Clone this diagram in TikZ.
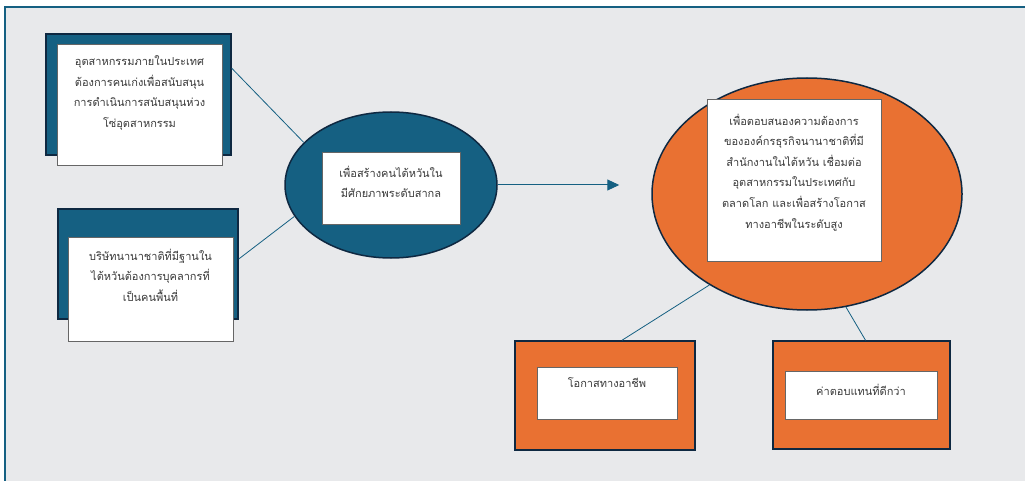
\documentclass[tikz,border=0pt]{standalone}
\usepackage{fontspec}
\newfontfamily\thaifont[Script=Thai]{Loma}
\usetikzlibrary{arrows.meta,shapes.geometric}

\definecolor{bggray}{HTML}{E8E9EB}
\definecolor{tblue}{HTML}{156082}
\definecolor{dblue}{HTML}{0E2841}
\definecolor{torange}{HTML}{E97132}
\definecolor{txtgray}{HTML}{3A3A3A}

\tikzset{
  backbox/.style={draw=dblue, line width=1.5pt, inner sep=0pt},
  whitebox/.style={draw=gray!80!black, fill=white, line width=0.8pt, inner sep=0pt},
  oval/.style={ellipse, draw=dblue, line width=1.5pt, inner sep=0pt},
  thaitext/.style={anchor=north, inner sep=0pt, align=center, text=txtgray,
    font=\thaifont\fontsize{11}{20.6}\selectfont},
  link/.style={draw=tblue, line width=0.8pt}
}

\begin{document}
\begin{tikzpicture}[x=1pt, y=-1pt]
        \useasboundingbox (0,0) rectangle (1025,481);
        \draw[fill=bggray, draw=tblue, line width=2pt](5,7) rectangle (1035,495);
        % left column
        \node[backbox, fill=tblue, minimum width=185pt, minimum height=121pt] (tlback) at (138.5,94.5) {};
        \node[whitebox, minimum width=165pt, minimum height=121pt] (tlwhite) at (139.5,104.5) {};
        \node[thaitext] (tltext) at ([yshift=-12pt]tlwhite.north) {อุตสาหกรรมภายในประเทศ\\ต้องการคนเก่งเพื่อสนับสนุน\\การดำเนินการสนับสนุนห่วง\\โซ่อุตสาหกรรม};
        \node[backbox, fill=tblue, minimum width=180pt, minimum height=110pt] (blback) at (148,264) {};
        \node[whitebox, minimum width=165pt, minimum height=104pt] (blwhite) at (150.5,289) {};
        \node[thaitext] (bltext) at ([yshift=-12pt]blwhite.north) {บริษัทนานาชาติที่มีฐานใน\\ไต้หวันต้องการบุคลากรที่\\เป็นคนพื้นที่};
        % centre
        \node[oval, fill=tblue, minimum width=212pt, minimum height=146pt] (mid) at (391,185) {};
        \node[whitebox, minimum width=138pt, minimum height=72pt] (midwhite) at (391,188) {};
        \node[thaitext] (midtext) at ([yshift=-14pt]midwhite.north) {เพื่อสร้างคนไต้หวันใน\\มีศักยภาพระดับสากล};
        % right
        \node[oval, fill=torange, minimum width=310pt, minimum height=232pt] (goal) at (807,194) {};
        \node[whitebox, minimum width=174pt, minimum height=162pt] (goalwhite) at (794,180) {};
        \node[thaitext] (goaltext) at ([yshift=-15pt]goalwhite.north) {เพื่อตอบสนองความต้องการ\\ขององค์กรธุรกิจนานาชาติที่มี\\สำนักงานในไต้หวัน เชื่อมต่อ\\อุตสาหกรรมในประเทศกับ\\ตลาดโลก และเพื่อสร้างโอกาส\\ทางอาชีพในระดับสูง};
        \node[backbox, fill=torange, minimum width=180pt, minimum height=109pt] (career) at (605,395.5) {};
        \node[whitebox, minimum width=140pt, minimum height=52pt] (careerwhite) at (607,393) {};
        \node[thaitext] (careertext) at ([yshift=-11pt]careerwhite.north) {โอกาสทางอาชีพ};
        \node[backbox, fill=torange, minimum width=177pt, minimum height=108pt] (pay) at (861.5,395) {};
        \node[whitebox, minimum width=152pt, minimum height=48pt] (paywhite) at (861,395) {};
        \node[thaitext] (paytext) at ([yshift=-13pt]paywhite.north) {ค่าตอบแทนที่ดีกว่า};
        % connectors
        \draw[link]([yshift=-35pt]tlback.north east)--(mid.154);
        \draw[link]([yshift=5pt]blback.east)--(mid.198);
        \draw[link]([xshift=17pt]career.north)--(goal.223.5);
        \draw[link]([xshift=4pt]pay.north)--(goal.289.6);
        \coordinate (tip) at ([xshift=-32pt]goal.west |- mid.east);
        \draw[link, line width=1pt, -{Triangle[length=12pt, width=11pt]}](mid.east)--(tip);
    \end{tikzpicture}
\end{document}
